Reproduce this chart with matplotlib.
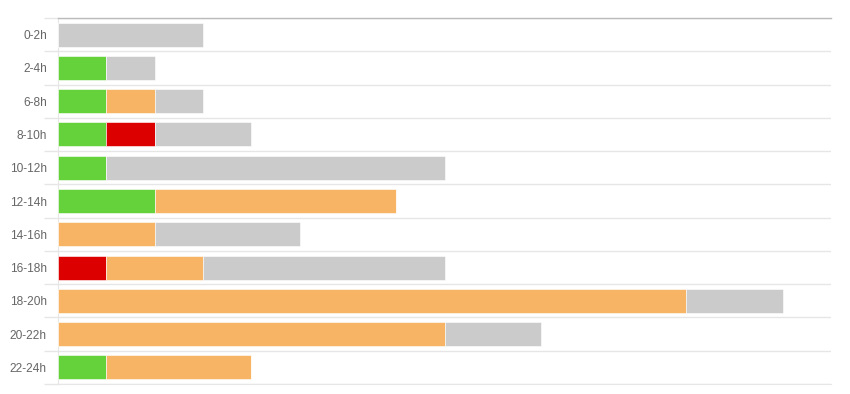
import numpy as np
import matplotlib
matplotlib.use('Agg')
import matplotlib.pyplot as plt

plt.rcParams['font.family'] = ['Liberation Sans', 'DejaVu Sans']

# categories (top to bottom)
slots = ['0-2h', '2-4h', '6-8h', '8-10h', '10-12h', '12-14h',
         '14-16h', '16-18h', '18-20h', '20-22h', '22-24h']

# stacked series, left to right
green = [0, 1, 1, 1, 1, 2, 0, 0, 0, 0, 1]
red = [0, 0, 0, 1, 0, 0, 0, 1, 0, 0, 0]
orange = [0, 0, 1, 0, 0, 5, 2, 2, 13, 8, 3]
gray = [3, 1, 1, 2, 7, 0, 3, 5, 2, 2, 0]

series = [(green, '#66d23b'), (red, '#dd0000'), (orange, '#f7b465'), (gray, '#cbcbcb')]

fig = plt.figure(figsize=(8.5, 3.94), dpi=100)
ax = fig.add_axes([58 / 850, 1 - 384 / 394, (831 - 58) / 850, (384 - 18) / 394])

y = np.arange(len(slots))
left = np.zeros(len(slots))
for vals, col in series:
    vals = np.array(vals, dtype=float)
    ax.barh(y, vals, left=left, height=0.72, color=col,
            edgecolor='white', linewidth=0.4, zorder=3)
    left += vals

ax.set_xlim(0, 16)
ax.set_ylim(len(slots) - 0.5, -0.5)

ax.set_yticks(y)
ax.set_yticklabels(slots)
ax.set_yticks(np.arange(len(slots) + 1) - 0.5, minor=True)
ax.tick_params(axis='y', which='major', length=0, pad=8, labelsize=8.6, labelcolor='#666666')
ax.tick_params(axis='y', which='minor', length=10, width=1, color='#e6e6e6')
ax.grid(axis='y', which='minor', color='#e6e6e6', linewidth=1, zorder=0)
ax.set_xticks([])

ax.spines['right'].set_visible(False)
ax.spines['bottom'].set_color('#e6e6e6')
ax.spines['left'].set_color('#e6e6e6')
ax.spines['top'].set_color('#bbbbbb')
ax.spines['top'].set_linewidth(1)

fig.savefig('out.png', dpi=100)
